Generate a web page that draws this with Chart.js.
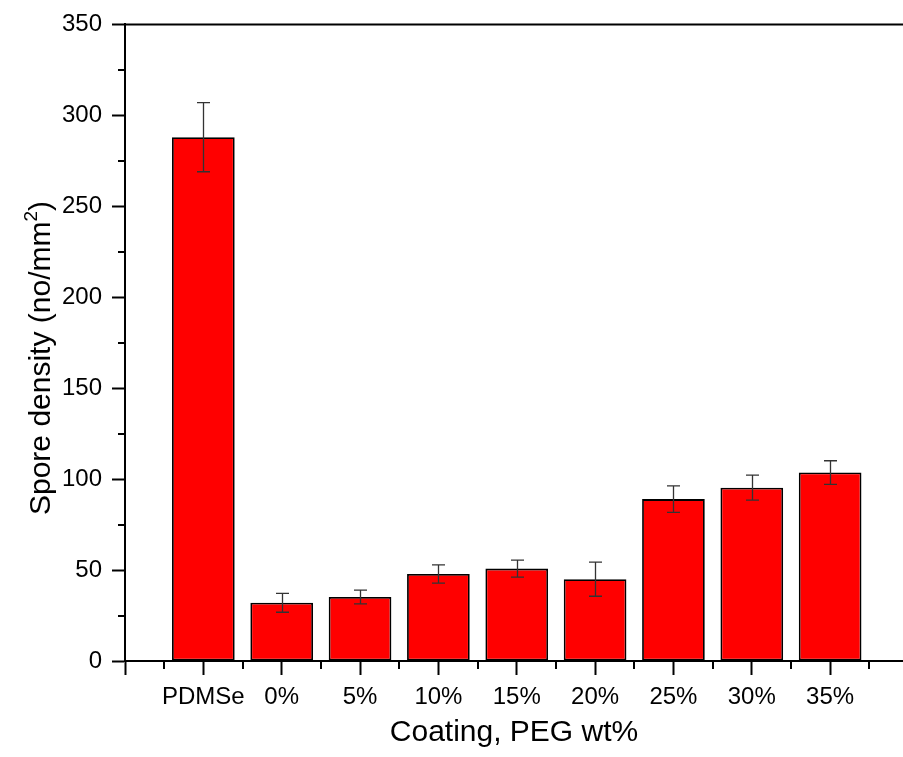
<!DOCTYPE html>
<html>
<head>
<meta charset="utf-8">
<script src="https://cdn.jsdelivr.net/npm/chart.js@4.4.1/dist/chart.umd.min.js"></script>
<style>
  html, body { margin: 0; padding: 0; background: #fff; overflow: hidden; }
  canvas { display: block; }
</style>
</head>
<body>
<canvas id="chart" width="903" height="757"></canvas>
<script>
// Spore density on each coating (mean and error), PEG content in wt%
const categories = ['PDMSe', '0%', '5%', '10%', '15%', '20%', '25%', '30%', '35%'];
const density = [288, 32, 35.2, 47.8, 50.8, 45, 89, 95.3, 103.6];
const densityErr = [19, 5.2, 3.8, 5, 4.7, 9.4, 7.3, 6.9, 6.5];

// Axis ticks
const yTickValues = [0, 50, 100, 150, 200, 250, 300, 350];
const yMinorValues = [25, 75, 125, 175, 225, 275, 325];
const xTickValues = [0, 1, 2, 3, 4, 5, 6, 7, 8, 9];
const xMinorValues = [0.5, 1.5, 2.5, 3.5, 4.5, 5.5, 6.5, 7.5, 8.5, 9.5];

const FONT = "'Liberation Sans', Arial, sans-serif";

// categories sit at positions 1..n on a numeric x axis, position 0 is the axis origin
const points = categories.map((c, i) => ({ x: i + 1, y: density[i] }));

const axisDecor = {
  id: 'axisDecor',
  afterDatasetsDraw(chart) {
    const { ctx, scales: { x, y } } = chart;
    ctx.save();
    ctx.strokeStyle = '#333';
    ctx.lineWidth = 1.3;
    categories.forEach((c, i) => {
      const px = Math.round(x.getPixelForValue(i + 1)) + 0.5;
      const top = y.getPixelForValue(density[i] + densityErr[i]);
      const bot = y.getPixelForValue(density[i] - densityErr[i]);
      ctx.beginPath();
      ctx.moveTo(px, top); ctx.lineTo(px, bot);
      ctx.moveTo(px - 6.5, top); ctx.lineTo(px + 6.5, top);
      ctx.moveTo(px - 6.5, bot); ctx.lineTo(px + 6.5, bot);
      ctx.stroke();
    });
    ctx.restore();
  },
  afterDraw(chart) {
    const { ctx, chartArea, scales: { x, y } } = chart;
    ctx.save();
    ctx.strokeStyle = '#000';
    ctx.lineWidth = 2;
    // top frame line
    ctx.beginPath();
    ctx.moveTo(chartArea.left, chartArea.top);
    ctx.lineTo(chartArea.right, chartArea.top);
    ctx.stroke();
    // minor ticks
    ctx.beginPath();
    yMinorValues.forEach(v => {
      const py = Math.round(y.getPixelForValue(v));
      ctx.moveTo(chartArea.left - 7, py);
      ctx.lineTo(chartArea.left, py);
    });
    xMinorValues.forEach(v => {
      const px = Math.round(x.getPixelForValue(v));
      ctx.moveTo(px, chartArea.bottom);
      ctx.lineTo(px, chartArea.bottom + 8);
    });
    ctx.stroke();

    // y axis title with superscript
    const main = 'Spore density (no/mm';
    const sup = '2';
    const tail = ')';
    ctx.fillStyle = '#000';
    ctx.textBaseline = 'alphabetic';
    ctx.textAlign = 'left';
    ctx.font = '30px ' + FONT;
    const wMain = ctx.measureText(main).width;
    const wTail = ctx.measureText(tail).width;
    ctx.font = '19px ' + FONT;
    const wSup = ctx.measureText(sup).width;
    const total = wMain + wSup + wTail;
    ctx.translate(50, 358);
    ctx.rotate(-Math.PI / 2);
    let sx = -total / 2;
    ctx.font = '30px ' + FONT;
    ctx.fillText(main, sx, 0);
    sx += wMain;
    ctx.font = '19px ' + FONT;
    ctx.fillText(sup, sx, -13);
    sx += wSup;
    ctx.font = '30px ' + FONT;
    ctx.fillText(tail, sx, 0);
    ctx.restore();
  }
};

new Chart(document.getElementById('chart'), {
  type: 'bar',
  data: {
    datasets: [{
      data: points,
      backgroundColor: '#ff0000',
      borderColor: '#000',
      borderWidth: 1.8,
      borderSkipped: false,
      categoryPercentage: 1,
      barPercentage: 0.8
    }]
  },
  options: {
    responsive: false,
    animation: false,
    events: [],
    layout: { padding: { top: 24, right: 0, left: 0, bottom: 0 } },
    plugins: { legend: { display: false }, tooltip: { enabled: false } },
    scales: {
      x: {
        type: 'linear',
        offset: false,
        min: 0,
        max: 9.93,
        afterBuildTicks: s => { s.ticks = xTickValues.map(v => ({ value: v })); },
        afterFit: s => { s.height = 96; },
        ticks: {
          autoSkip: false,
          maxRotation: 0,
          padding: 8,
          color: '#000',
          font: { family: FONT, size: 24 },
          callback: v => (v >= 1 && v <= categories.length) ? categories[v - 1] : ''
        },
        grid: { offset: false, drawOnChartArea: false, drawTicks: true, tickLength: 14, tickWidth: 2, tickColor: '#000' },
        border: { display: true, color: '#000', width: 2 },
        title: {
          display: true,
          text: 'Coating, PEG wt%',
          color: '#000',
          font: { family: FONT, size: 30 },
          padding: { top: 0, bottom: 6 }
        }
      },
      y: {
        min: 0,
        max: 350,
        afterBuildTicks: s => { s.ticks = yTickValues.map(v => ({ value: v })); },
        afterFit: s => { s.width = 125; },
        ticks: {
          padding: 10,
          color: '#000',
          font: { family: FONT, size: 24 }
        },
        grid: { drawOnChartArea: false, drawTicks: true, tickLength: 13, tickWidth: 2, tickColor: '#000' },
        border: { display: true, color: '#000', width: 2 }
      }
    }
  },
  plugins: [axisDecor]
});
</script>
</body>
</html>
